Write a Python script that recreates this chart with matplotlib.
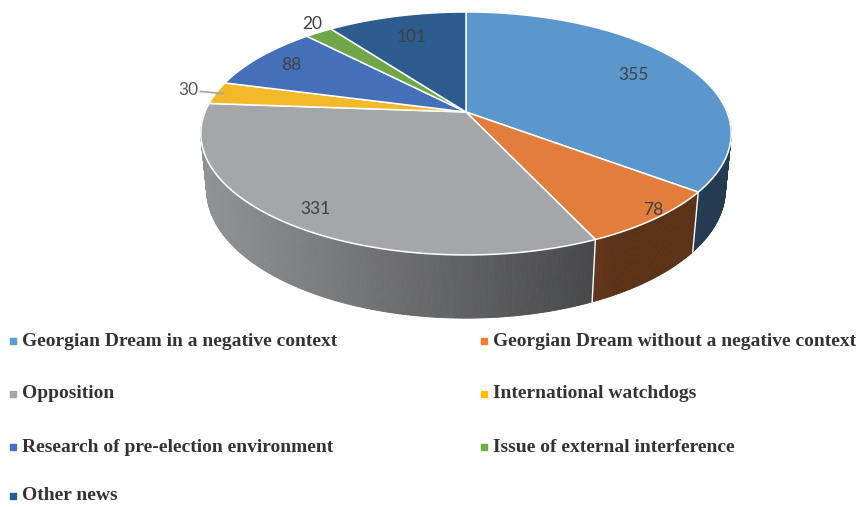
import numpy as np
import matplotlib
matplotlib.use("Agg")
import matplotlib.pyplot as plt
from matplotlib.patches import Polygon

# ---------------- data ----------------
categories = [
    "Georgian Dream in a negative context",
    "Georgian Dream without a negative context",
    "Opposition",
    "International watchdogs",
    "Research of pre-election environment",
    "Issue of external interference",
    "Other news",
]
values = [355, 78, 331, 30, 88, 20, 101]

# ---------------- styles ----------------
top_colors = ["#5B96CC", "#E27D3D", "#A5A6A9", "#F3B92B", "#4470B9", "#6FA64A", "#2C5B8E"]
legend_colors = ["#5B9BD5", "#ED7D31", "#A5A5A5", "#FFC000", "#4472C4", "#70AD47", "#255E91"]
label_radius = [0.76, 0.96, 0.88, 0.97, 0.84, 1.10, 0.76]
label_dangle = [0.0, -2.0, 0.0, 0.0, 0.0, 1.8, 0.0]
label_outside_leader = [False, False, False, True, False, False, False]

# projection parameters (pixel space)
CX, CY, RPX = 466.0, 112.0, 261.0
ELEV = np.radians(26.8)
DIST = 5.05
THICK = 0.2425


def proj(x, z, h=0.0):
    s, c = np.sin(ELEV), np.cos(ELEV)
    up = -z * s + h * c
    toward = z * c + h * s
    f = DIST / (DIST - toward)
    return CX + RPX * x * f, CY - RPX * up * f


def edge(theta_deg, r=1.0, h=0.0):
    t = np.radians(theta_deg)
    return proj(r * np.sin(t), -r * np.cos(t), h)


def shade(px):
    return float(np.clip(0.88 - 0.45 * (px - 205) / 390.0, 0.40, 0.92))


def scale_color(hexc, k):
    rgb = np.array(matplotlib.colors.to_rgb(hexc))
    return tuple(np.clip(rgb * k, 0, 1))


fig = plt.figure(figsize=(8.61, 5.07), dpi=100)
ax = fig.add_axes([0, 0, 1, 1])
ax.set_xlim(0, 861)
ax.set_ylim(507, 0)
ax.axis("off")

total = float(sum(values))
bounds = np.concatenate([[0.0], np.cumsum(values) / total * 360.0])

# ---- side walls (front half visible: 90..270 deg) ----
for i in range(len(values)):
    a0, a1 = max(bounds[i], 90.0), min(bounds[i + 1], 270.0)
    if a1 <= a0:
        continue
    n = max(2, int((a1 - a0) / 0.5))
    angs = np.linspace(a0, a1, n + 1)
    for j in range(n):
        p1 = edge(angs[j]); p2 = edge(angs[j + 1])
        p3 = edge(angs[j + 1], h=-THICK); p4 = edge(angs[j], h=-THICK)
        col = scale_color(top_colors[i], shade((p1[0] + p2[0]) / 2))
        ax.add_patch(Polygon([p1, p2, p3, p4], closed=True, facecolor=col,
                             edgecolor=col, linewidth=0.6, zorder=1))

# seams between slices on the side wall
for b in bounds[1:-1]:
    if 90.0 < b < 270.0:
        t = edge(b); bt = edge(b, h=-THICK)
        ax.plot([t[0], bt[0]], [t[1], bt[1]], color="white", lw=1.0, zorder=2)

# ---- top faces ----
for i in range(len(values)):
    a0, a1 = bounds[i], bounds[i + 1]
    n = max(2, int((a1 - a0) / 0.5))
    angs = np.linspace(a0, a1, n + 1)
    pts = [proj(0, 0)] + [edge(a) for a in angs]
    ax.add_patch(Polygon(pts, closed=True, facecolor=top_colors[i],
                         edgecolor="white", linewidth=1.1, joinstyle="round", zorder=3))

# ---- data labels ----
for i, v in enumerate(values):
    mid = (bounds[i] + bounds[i + 1]) / 2 + label_dangle[i]
    if label_outside_leader[i]:
        ex, ey = edge(mid, r=label_radius[i])
        lx, ly = ex - 23, ey - 2
        ax.plot([ex, lx], [ey, ly], color="#A6A6A6", lw=1.2, zorder=4)
        ax.text(lx - 2, ly - 1, str(v), ha="right", va="center", fontsize=12.5,
                family="Lato", color="#595959", zorder=5)
    else:
        x, y = edge(mid, r=label_radius[i])
        ax.text(x, y, str(v), ha="center", va="center", fontsize=12.5,
                family="Lato", color="#404040", zorder=5)

# ---- legend ----
row_y = [341, 394, 447, 496]
col_x = [13, 484]
for i, cat in enumerate(categories):
    r, c = divmod(i, 2)
    x0, y0 = col_x[c], row_y[r]
    ax.plot([x0], [y0], marker="s", markersize=4.2, color=legend_colors[i],
            linestyle="none", zorder=5)
    ax.text(x0 + 9, y0, cat, ha="left", va="center", fontsize=14.0,
            family="Liberation Serif", fontweight="bold", color="#333333", zorder=5)

fig.savefig("out.png", dpi=100)
